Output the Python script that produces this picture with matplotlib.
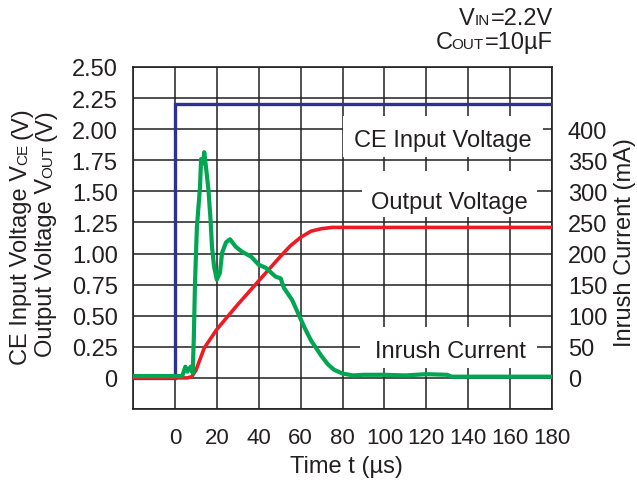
import matplotlib
matplotlib.use("Agg")
import matplotlib.pyplot as plt
from matplotlib.patches import Rectangle

plt.rcParams['font.family'] = ['Liberation Sans', 'DejaVu Sans']

# ---- data ----
ce_t = [-20, 0, 0, 180]
ce_v = [0.0, 0.0, 2.2, 2.2]

out_t = [-20, 6, 8, 10, 12, 14, 20, 30, 40, 50, 55, 60, 65, 70, 75, 180]
out_v = [0, 0, 0.01, 0.06, 0.15, 0.24, 0.39, 0.59, 0.78, 0.97, 1.06, 1.13, 1.18, 1.20, 1.21, 1.21]

inr_t = [-20, 3.5, 5, 6, 7.5, 8.5, 9, 9.6, 10.5, 12, 12.5, 13.5, 14, 14.8, 16, 17, 17.7,
         18.7, 20, 21.5, 22.5, 24.4, 26.3, 29, 32, 36.4, 40, 43.4, 48, 50.5, 52, 54, 56,
         58, 60, 62, 65, 68, 70, 73, 76, 80, 85, 90, 100, 110, 120, 130, 132, 180]
inr_ma = [3, 3, 18, 10, 18, 8, 61, 153, 242, 308, 352, 345, 363, 340, 303, 255, 211,
          179, 158, 169, 201, 218, 223, 211, 203, 195, 182, 177, 163, 160, 145, 135, 125,
          110, 95, 80, 60, 45, 35, 22, 13, 7, 4, 5, 5, 4, 6, 5, 2, 2]

x_ticks = [0, 20, 40, 60, 80, 100, 120, 140, 160, 180]
v_ticks = [0, 0.25, 0.5, 0.75, 1.0, 1.25, 1.5, 1.75, 2.0, 2.25, 2.5]
v_labels = ['0', '0.25', '0.50', '0.75', '1.00', '1.25', '1.50', '1.75', '2.00', '2.25', '2.50']
ma_ticks = [0, 50, 100, 150, 200, 250, 300, 350, 400]
ma_labels = [str(v) for v in ma_ticks]

BLUE = '#2E3192'
RED = '#ED1C24'
GREEN = '#00A651'
INK = '#231F20'
FS = 17
SUB = 11

W, H = 637, 481
fig = plt.figure(figsize=(W / 100, H / 100), dpi=100)
ax = fig.add_axes([133 / W, 1 - 410 / H, 419 / W, 342 / H])
ax.set_xlim(-20, 180)
ax.set_ylim(-0.25, 2.5)
ax.set_xticks([-20] + x_ticks)
ax.set_xticklabels([''] + [str(v) for v in x_ticks], fontsize=16)
ax.set_yticks([-0.25] + v_ticks)
ax.set_yticklabels([''] + v_labels, fontsize=FS)
ax.tick_params(length=0, colors=INK)
ax.tick_params(axis='x', pad=13)
ax.tick_params(axis='y', pad=11)
ax.set_axisbelow(True)
ax.grid(True, color=INK, lw=1.1)
for s in ax.spines.values():
    s.set_color(INK)
    s.set_linewidth(1.2)

ax.plot(ce_t, ce_v, color=BLUE, lw=2.4, zorder=3, solid_joinstyle='miter')
ax.plot(out_t, out_v, color=RED, lw=2.6, zorder=3)

# label boxes
boxes = [
    ((80.2, 1.774), 95.5, 0.331, 128.0, 1.865, 'CE Input Voltage'),
    ((89.3, 1.29), 83.5, 0.371, 131.2, 1.368, 'Output Voltage'),
    ((88.3, 0.081), 84.5, 0.33, 131.7, 0.172, 'Inrush Current'),
]
for (xy, w, h, tx, ty, s) in boxes:
    ax.add_patch(Rectangle(xy, w, h, facecolor='white', edgecolor='none', zorder=1))
    ax.text(tx, ty, s, ha='center', va='baseline', fontsize=FS, color=INK, zorder=4)

ax2 = ax.twinx()
ax2.set_ylim(-50, 500)
ax2.set_yticks(ma_ticks)
ax2.set_yticklabels(ma_labels, fontsize=FS)
ax2.tick_params(length=0, pad=11.5, colors=INK)
for s in ax2.spines.values():
    s.set_visible(False)
ax2.plot(inr_t, inr_ma, color=GREEN, lw=3.0, zorder=3, solid_joinstyle='round')

# ---- texts made of runs with different sizes ----
renderer = fig.canvas.get_renderer()


def measure(s, size):
    t = fig.text(0, 0, s, fontsize=size)
    w = t.get_window_extent(renderer).width
    t.remove()
    return w


def draw_runs(x, y, runs, rotation=0, align='center'):
    """x,y in pixels from top-left; runs = (text, size, gap_px)."""
    widths = [measure(s, sz) for s, sz, g in runs]
    total = sum(widths) + sum(g for _, _, g in runs)
    if rotation == 0:
        pos = x - total / 2 if align == 'center' else x - total
        for (s, sz, g), w in zip(runs, widths):
            pos += g
            fig.text(pos / W, 1 - y / H, s, fontsize=sz, ha='left', va='baseline',
                     color=INK)
            pos += w
    else:
        pos = y + total / 2  # start at bottom
        for (s, sz, g), w in zip(runs, widths):
            pos -= g
            fig.text(x / W, 1 - pos / H, s, fontsize=sz, ha='left', va='baseline',
                     rotation=90, rotation_mode='anchor', color=INK)
            pos -= w


draw_runs(553, 25, [('V', FS, 0), ('IN', SUB, 0), ('=2.2V', FS, 1)], align='right')
draw_runs(553, 49, [('C', FS, 0), ('OUT', SUB, -1), ('=10µF', FS, 1)], align='right')

draw_runs(27, 236, [('CE Input Voltage V', FS, 0), ('CE', SUB, 0), ('(V)', FS, 5)], rotation=90)
draw_runs(52, 233, [('Output Voltage V', FS, 0), ('OUT', SUB, 0), ('(V)', FS, 5)], rotation=90)

fig.text(625 / W, 1 - 243 / H, 'Inrush Current (mA)', fontsize=FS, rotation=90,
         ha='center', va='center', color=INK)
fig.text(346 / W, 1 - 473 / H, 'Time t (µs)', fontsize=FS, ha='center', va='baseline',
         color=INK)

fig.savefig('out.png', dpi=100)
